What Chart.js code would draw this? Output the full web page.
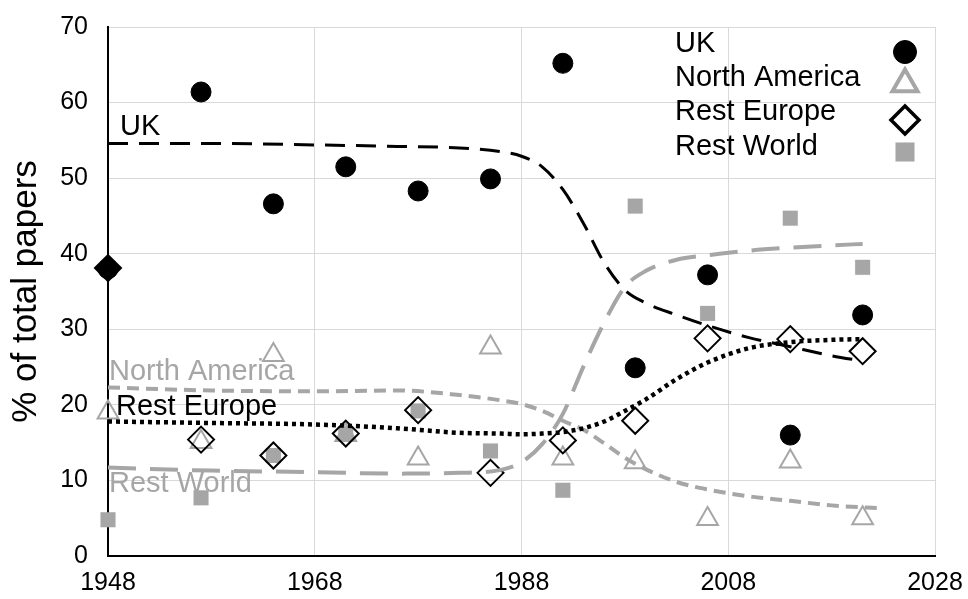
<!DOCTYPE html>
<html>
<head>
<meta charset="utf-8">
<script src="https://cdn.jsdelivr.net/npm/chart.js@4.4.1/dist/chart.umd.min.js"></script>
<style>
  html, body { margin: 0; padding: 0; background: #fff; }
  #wrap { width: 968px; height: 599px; }
</style>
</head>
<body>
<div id="wrap"><canvas id="chart" width="968" height="599"></canvas></div>
<script>
// share of papers by region, one marker per period
const years = [1948, 1957, 1964, 1971, 1978, 1985, 1992, 1999, 2006, 2014, 2021]
const uk = [38.0, 61.4, 46.6, 51.5, 48.3, 49.9, 65.2, 24.9, 37.2, 16.0, 31.9]
const northAmerica = [19.0, 15.1, 26.6, 16.0, 12.9, 27.6, 12.9, 12.4, 4.9, 12.5, 5.0]
const restEurope = [38.1, 15.4, 13.3, 16.2, 19.3, 11.0, 15.3, 17.9, 28.8, 28.7, 27.1]
const restWorld = [4.8, 7.7, 13.3, 16.2, 19.2, 13.9, 8.7, 46.3, 32.1, 44.7, 38.2]

// fitted trend curves
const trendYears = [1948, 1958, 1968, 1976, 1982, 1986, 1988, 1990, 1992, 1994, 1996, 1998, 2000, 2003, 2006, 2010, 2014, 2018, 2021]
const ukTrend = [54.6, 54.6, 54.4, 54.2, 54.0, 53.5, 52.9, 51.5, 48.5, 44.0, 38.8, 35.2, 33.5, 31.9, 30.5, 28.9, 27.7, 26.5, 25.8]
const restEuropeTrend = [17.8, 17.6, 17.4, 16.9, 16.3, 16.2, 16.1, 16.2, 16.4, 16.9, 17.8, 19.2, 20.7, 23.4, 25.6, 27.5, 28.3, 28.6, 28.7]
const restWorldTrend = [11.7, 11.3, 11.1, 10.9, 11.0, 11.4, 12.4, 14.8, 18.8, 25.1, 30.9, 35.6, 37.7, 39.2, 39.8, 40.4, 40.8, 41.1, 41.3]
const naTrendYears = [1948, 1958, 1968, 1976, 1982, 1986, 1988, 1990, 1992, 1994, 1996, 1998, 2000, 2003, 2006, 2010, 2014, 2018, 2023]
const northAmericaTrend = [22.3, 21.9, 21.8, 21.9, 21.3, 20.6, 20.1, 19.2, 17.9, 16.7, 14.9, 13.0, 11.5, 9.8, 8.8, 7.9, 7.3, 6.7, 6.3]

const xTicks = [1948, 1968, 1988, 2008, 2028]

const GREY = '#a6a6a6'
const FONT = '"Liberation Sans", Arial, sans-serif'

const pts = (xs, ys) => xs.map((x, i) => ({ x, y: ys[i] }))

function trend(label, xs, ys, color, dash, width) {
  return {
    label, data: pts(xs, ys), showLine: true, pointRadius: 0,
    borderColor: color, borderWidth: width, borderDash: dash,
    cubicInterpolationMode: 'monotone', borderCapStyle: 'butt', clip: false,
  }
}

function markers(label, ys, style, radius, fill, stroke, bw) {
  return {
    label, data: pts(years, ys), showLine: false, pointStyle: style,
    pointRadius: radius, pointHoverRadius: radius,
    pointBackgroundColor: fill, pointBorderColor: stroke, pointBorderWidth: bw,
    clip: false,
  }
}

// region names written next to the curves, and the legend at top right
const annotate = {
  id: 'annotate',
  afterDatasetsDraw(chart) {
    const ctx = chart.ctx
    ctx.save()
    ctx.font = '29px ' + FONT
    ctx.textBaseline = 'middle'
    ctx.textAlign = 'left'
    const lbls = [
      ['UK', 120, 127, '#000'],
      ['North America', 109, 372, GREY],
      ['Rest Europe', 116, 407, '#000'],
      ['Rest World', 109, 484, GREY],
    ]
    lbls.forEach(([t, x, y, c]) => { ctx.fillStyle = c; ctx.fillText(t, x, y) })

    const legend = [
      ['UK', 44, 'circle', 11.5, 52, '#000', '#000', 1],
      ['North America', 78, 'triangle', 14.5, 84, 'rgba(0,0,0,0)', GREY, 4],
      ['Rest Europe', 112, 'rectRot', 14, 120, 'rgba(0,0,0,0)', '#000', 3.5],
      ['Rest World', 147, 'rect', 13.4, 152, GREY, GREY, 0.1],
    ]
    legend.forEach(([t, ty, style, r, my, fill, stroke, bw]) => {
      ctx.fillStyle = '#000'
      ctx.fillText(t, 675, ty)
      ctx.fillStyle = fill
      ctx.strokeStyle = stroke
      ctx.lineWidth = bw
      Chart.helpers.drawPoint(ctx, { pointStyle: style, radius: r, borderWidth: bw, rotation: 0 }, 905, my)
    })
    ctx.restore()
  }
}

new Chart(document.getElementById('chart'), {
  type: 'scatter',
  data: {
    datasets: [
      trend('UK trend', trendYears, ukTrend, '#000', [20, 11], 3),
      trend('Rest Europe trend', trendYears, restEuropeTrend, '#000', [4, 4], 4.5),
      trend('North America trend', naTrendYears, northAmericaTrend, GREY, [12, 7], 4),
      trend('Rest World trend', trendYears, restWorldTrend, GREY, [28, 14], 4),
      markers('Rest Europe', restEurope, 'rectRot', 13,
        restEurope.map((v, i) => i === 0 ? '#000' : 'rgba(0,0,0,0)'), '#000', 2),
      markers('North America', northAmerica, 'triangle', 12, 'rgba(0,0,0,0)', GREY, 2),
      markers('UK', uk, 'circle', 10, '#000', '#000', 1),
      markers('Rest World', restWorld, 'rect', 10.6, GREY, GREY, 0.1),
    ],
  },
  options: {
    responsive: false,
    animation: false,
    layout: { padding: { top: 27, right: 33, left: 0, bottom: 0 } },
    plugins: { legend: { display: false }, tooltip: { enabled: false } },
    scales: {
      x: {
        type: 'linear', min: 1948, max: 2028,
        afterBuildTicks: s => { s.ticks = xTicks.map(v => ({ value: v })) },
        afterFit: s => { s.height = 43; s.paddingLeft = 0; s.paddingRight = 0 },
        grid: { color: '#d9d9d9', lineWidth: 1, drawTicks: false },
        border: { color: '#000', width: 2 },
        ticks: { color: '#000', font: { size: 25, family: FONT }, padding: 12, maxRotation: 0, callback: v => String(v) },
      },
      y: {
        min: 0, max: 70,
        afterFit: s => { s.width = 108; s.paddingTop = 0; s.paddingBottom = 0 },
        grid: { color: '#d9d9d9', lineWidth: 1, drawTicks: false },
        border: { color: '#000', width: 2 },
        ticks: { stepSize: 10, color: '#000', font: { size: 25, family: FONT }, padding: 20 },
        title: { display: true, text: '% of total papers', color: '#000', font: { size: 35, family: FONT }, padding: { top: 5, bottom: 0 } },
      },
    },
  },
  plugins: [annotate],
})
</script>
</body>
</html>
